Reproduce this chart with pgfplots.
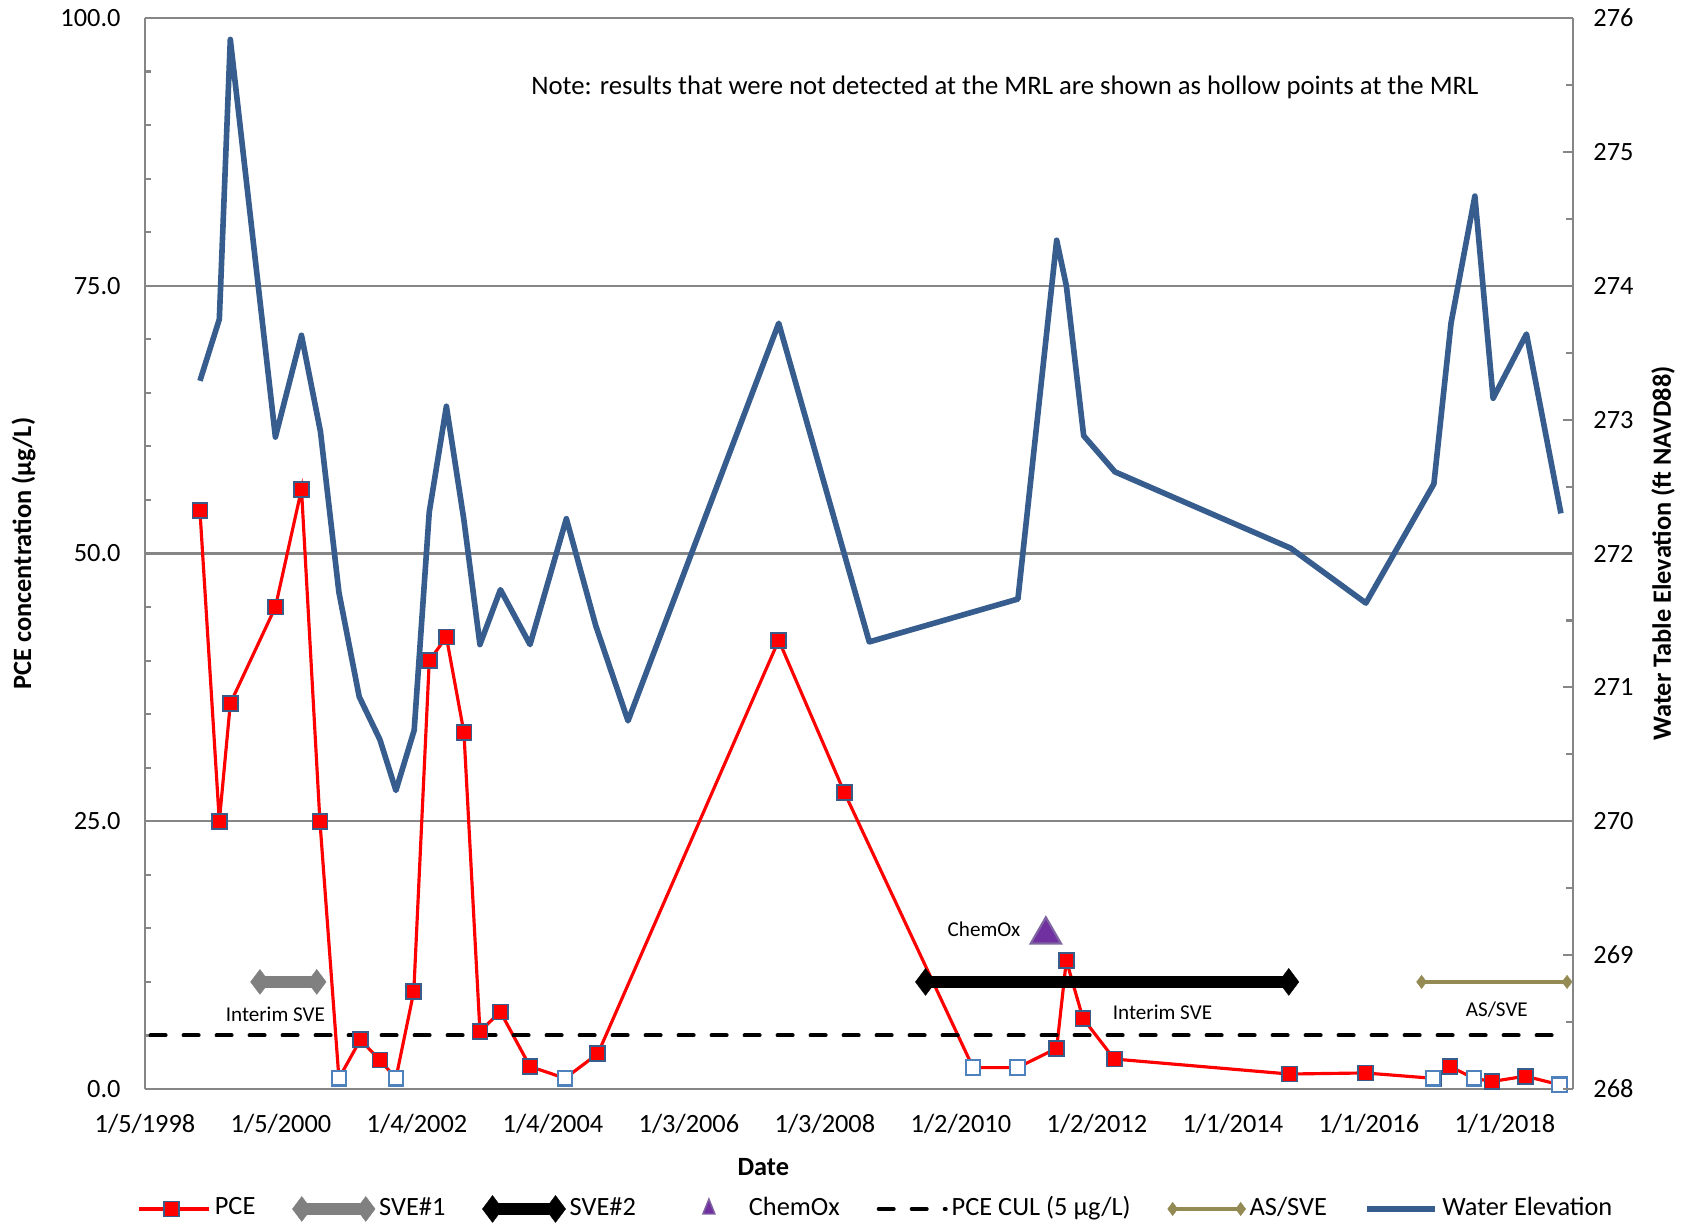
\documentclass[border=0pt]{standalone}
\usepackage{fontspec}
\setmainfont{Carlito}
\usepackage{pgfplots}
\pgfplotsset{compat=1.18}
\usetikzlibrary{plotmarks}

\definecolor{wblue}{RGB}{54,93,142}
\definecolor{mborder}{RGB}{56,93,138}
\definecolor{hborder}{RGB}{79,129,189}
\definecolor{gridgray}{RGB}{134,134,134}
\definecolor{svegray}{RGB}{128,128,128}
\definecolor{oliveg}{RGB}{148,138,84}
\definecolor{cpurple}{RGB}{112,48,160}
\definecolor{cborder}{RGB}{128,100,162}

\pgfplotsset{
  endlegend/.style={legend image code/.code={\draw[##1] plot coordinates {(0mm,0mm) (#1,0mm)};}},
  lineonly/.style={legend image code/.code={\draw[##1] (0mm,0mm) -- (#1,0mm);}},
  pcelegend/.style={legend image code/.code={\draw[##1, mark=none] (0mm,0mm) -- (7mm,0mm); \draw[##1] plot coordinates {(3.2mm,0mm)};}},
  chemlegend/.style={legend image code/.code={\path[draw=none, fill=none] (0mm,0mm) rectangle (7.2mm,0.1mm); \draw[##1, mark size=1mm, mark options={xscale=0.7, fill=cpurple, draw=cborder, line width=0.4pt}] plot coordinates {(3.6mm,0mm)};}},
}

\pgfplotstableread{
d v
295 54
399 25
458 36
700 45
840 56
939 25
1041 1
1156 4.6
1261 2.7
1347 1
1443 9.1
1526 40
1618 42.2
1712 33.3
1798 5.4
1908 7.2
2067 2.1
2255 1
2431 3.3
3402 41.9
3754 27.7
4445 2
4684 2
4894 3.8
4946 12
5035 6.6
5203 2.8
6142 1.4
6550 1.5
6915 1
7006 2.1
7134 1
7231 0.7
7410 1.2
7594 0.4
}\pcetable

\pgfplotstableread{
d v
1041 1
1347 1
2255 1
4445 2
4684 2
6915 1
7134 1
7594 0.4
}\hollowtable

\pgfplotstableread{
d e
295 273.29
399 273.75
458 275.84
700 272.87
840 273.63
942 272.91
1041 271.71
1150 270.93
1261 270.61
1347 270.23
1445 270.68
1526 272.31
1618 273.10
1712 272.25
1798 271.32
1908 271.73
2067 271.32
2262 272.26
2420 271.46
2593 270.75
3402 273.72
3888 271.34
4686 271.66
4894 274.34
4946 274.0
5039 272.88
5207 272.61
6150 272.04
6554 271.63
6919 272.52
7011 273.72
7139 274.67
7237 273.16
7416 273.64
7601 272.30
}\watertable

\begin{document}
\begin{tikzpicture}
\useasboundingbox (-14.5mm,-14.0mm) rectangle (154.2mm,108.9mm);
\begin{axis}[
  at={(0,0)}, anchor=south west,
  scale only axis, width=142.8mm, height=107.1mm,
  xmin=0, xmax=7666, ymin=0, ymax=100,
  axis x line*=bottom, axis y line*=left,
  axis line style={draw=gridgray, line width=0.6pt},
  xtick={0,730,...,7300},
  xticklabels={1/5/1998,1/5/2000,1/4/2002,1/4/2004,1/3/2006,1/3/2008,1/2/2010,1/2/2012,1/1/2014,1/1/2016,1/1/2018},
  xtick style={draw=none},
  ytick={0,25,...,100},
  minor y tick num=4,
  ymajorgrids, grid style={draw=gridgray, line width=0.6pt},
  major tick length=0mm, minor tick length=0.6mm,
  minor tick style={draw=gridgray, line width=0.6pt},
  tick label style={font=\fontsize{7.5}{9}\selectfont},
  yticklabel style={xshift=-1.2mm, /pgf/number format/.cd, fixed, fixed zerofill, precision=1, assume math mode=true},
  xticklabel style={yshift=-1.3mm},
  ylabel={PCE concentration (µg/L)},
  ylabel style={at={(axis description cs:-0.085,0.5)}, anchor=center, font=\bfseries\fontsize{7.5}{9}\selectfont},
  xlabel={Date},
  xlabel style={at={(axis description cs:0.433,-0.0728)}, anchor=center, font=\bfseries\fontsize{7.5}{9}\selectfont},
  legend columns=7,
  legend style={at={(axis description cs:-0.0056,-0.112)}, anchor=west, draw=none, fill=none,
    font=\fontsize{7.5}{9}\selectfont, inner xsep=0pt,
    nodes={inner sep=0.4mm},
    /tikz/every even column/.append style={column sep=3.3mm}},
]
% PCE
\addplot[red, line width=0.9pt, mark=square*, mark size=0.75mm,
  mark options={fill=red, draw=mborder, line width=0.5pt, solid}, pcelegend]
  table[x=d,y=v] {\pcetable};
\addlegendentry{PCE}
\addplot[only marks, mark=square*, mark size=0.72mm,
  mark options={fill=white, draw=hborder, line width=0.6pt}, forget plot] table[x=d,y=v] {\hollowtable};
% SVE#1
\addplot[svegray, line width=3.4pt, mark=diamond*, mark size=1.25mm,
  mark options={solid, fill=svegray, draw=svegray, line width=0.1pt}, endlegend=6.4mm]
  coordinates {(617,10) (922,10)};
\addlegendentry{SVE\#1}
% SVE#2
\addplot[black, line width=3.4pt, mark=diamond*, mark size=1.35mm,
  mark options={solid, fill=black, draw=black, line width=0.1pt}, endlegend=6.3mm]
  coordinates {(4190,10) (6140,10)};
\addlegendentry{SVE\#2}
% ChemOx
\addplot[only marks, mark=triangle*, mark size=1.75mm,
  mark options={fill=cpurple, draw=cborder, line width=0.6pt}, chemlegend]
  coordinates {(4836,14.4)};
\addlegendentry{ChemOx}
% PCE CUL
\addplot[black, line width=1.15pt, dash pattern=on 1.5mm off 1.8mm, line cap=round, lineonly=6.7mm]
  coordinates {(30,5) (7640,5)};
\addlegendentry{PCE CUL (5 µg/L)}
% AS/SVE
\addplot[oliveg, line width=1.15pt, mark=diamond*, mark size=0.67mm,
  mark options={solid, fill=oliveg, draw=oliveg, line width=0.1pt}, endlegend=6.8mm]
  coordinates {(6853,10) (7634,10)};
\addlegendentry{AS/SVE}
\addlegendimage{wblue, line width=1.8pt, lineonly=6.8mm}
\addlegendentry{Water Elevation}

\node[font=\fontsize{6}{7}\selectfont] at (axis cs:700,6.93) {Interim SVE};
\node[font=\fontsize{6}{7}\selectfont] at (axis cs:5462,7.2) {Interim SVE};
\node[font=\fontsize{6}{7}\selectfont] at (axis cs:4504,14.9) {ChemOx};
\node[font=\fontsize{6}{7}\selectfont] at (axis cs:7257,7.45) {AS/SVE};
\node[font=\fontsize{7.6}{9}\selectfont] at (axis cs:4616,93.5) {Note: results that were not detected at the MRL are shown as hollow points at the MRL};
\end{axis}

\begin{axis}[
  at={(0,0)}, anchor=south west,
  scale only axis, width=142.8mm, height=107.1mm,
  xmin=0, xmax=7666, ymin=268, ymax=276,
  axis x line=none, axis y line*=right,
  axis line style={draw=gridgray, line width=0.6pt},
  ytick={268,...,276},
  minor y tick num=1,
  major tick length=1mm, minor tick length=0.7mm,
  every tick/.style={draw=gridgray, line width=0.6pt},
  tick label style={font=\fontsize{7.5}{9}\selectfont},
  yticklabel style={xshift=0.8mm, /pgf/number format/assume math mode=true},
  ylabel={Water Table Elevation (ft NAVD88)},
  ylabel style={at={(axis description cs:1.063,0.5)}, anchor=center, font=\bfseries\fontsize{7.5}{9}\selectfont},
]
\addplot[wblue, line width=1.6pt, line join=round] table[x=d,y=e] {\watertable};
\end{axis}
\end{tikzpicture}
\end{document}
